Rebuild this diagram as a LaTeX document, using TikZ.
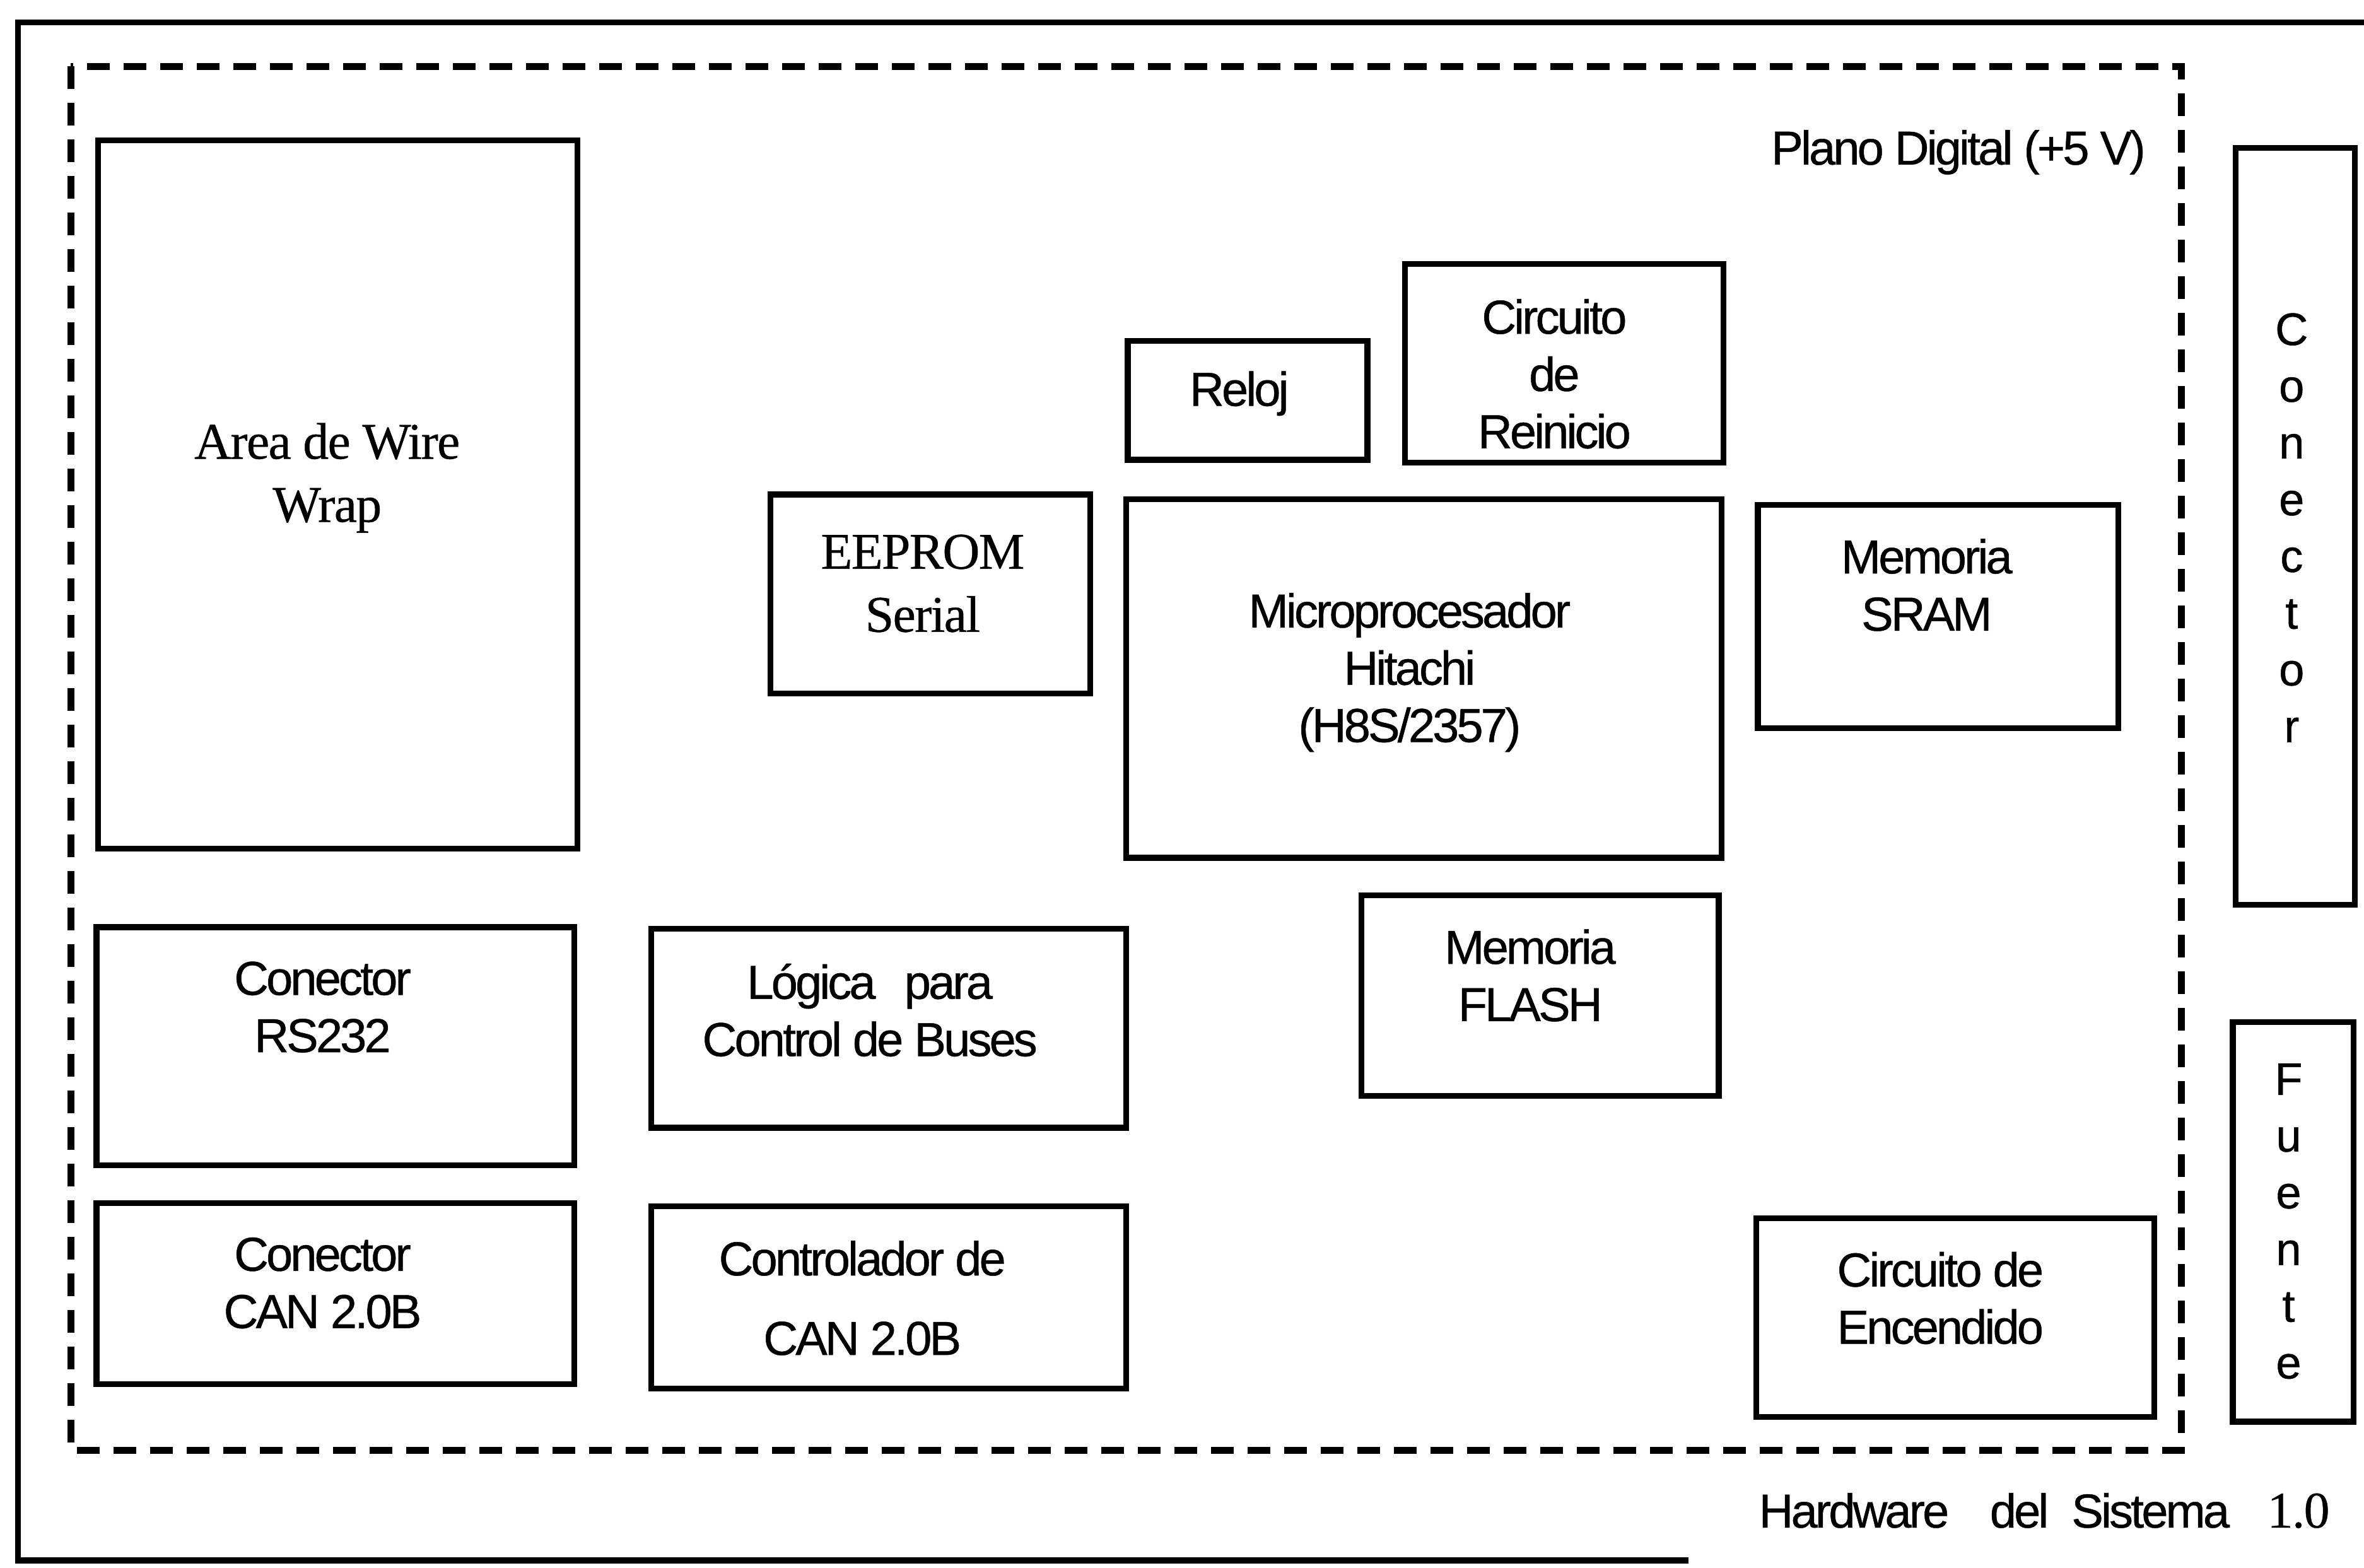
\documentclass[tikz,border=0pt]{standalone}
\usepackage{fontspec}
\setmainfont{Liberation Sans}[LetterSpace=-5, FakeBold=0.6]
\newfontfamily\serifface{Liberation Serif}[LetterSpace=-2, FakeBold=0.5]
\newfontfamily\spacedface{Liberation Sans}[FakeBold=0.6]
\usetikzlibrary{fit}

\tikzset{
  blk/.style={draw, line width=1.1pt, inner sep=0pt},
  lbl/.style={font=\fontsize{9}{10.8}\selectfont, align=center, inner sep=0pt},
  slbl/.style={font=\serifface\fontsize{9.7}{11.9}\selectfont, align=center, inner sep=0pt},
  vlbl/.style={font=\spacedface\fontsize{8.6}{10.7}\selectfont, align=center, inner sep=0pt},
  plane/.style={dash pattern=on 4.3pt off 2.6pt, line width=1.3pt},
  framing/.style={line width=1.1pt}
}

\begin{document}
\begin{tikzpicture}[x=0.01cm, y=-0.01cm]
\useasboundingbox (0,0) rectangle (1568,1040);

% outer sheet border (open on the right)
\coordinate (ftr) at (1568,15);
\coordinate (ftl) at (12,15);
\coordinate (fbl) at (12,1035);
\coordinate (fbr) at (1120,1035);
\draw[framing] (ftr) -- (ftl) -- (fbl) -- (fbr);

% digital plane boundary
\coordinate (pnw) at (47,44);
\coordinate (pse) at (1447,962);
\draw[plane] (pnw) rectangle (pse);
\node[lbl, anchor=center] (plano) at (1299,101) {Plano Digital (+5 V)};

% blocks
\node[blk, fit={(65,93) (383,563)}] (area) {};
\node[slbl] (area-t) at (217,317) {Area de Wire\\Wrap};

\node[blk, fit={(64,615) (381,773)}] (rs) {};
\node[lbl] (rs-t) at (214,668) {Conector\\RS232};

\node[blk, fit={(64,798) (381,918)}] (canc) {};
\node[lbl] (canc-t) at (214,851) {Conector\\CAN 2.0B};

\node[blk, fit={(432,616) (747,748)}] (logic) {};
\node[lbl] (logic-t) at (577,670) {L\'ogica\hspace{0.6em}para\\Control de Buses};

\node[blk, fit={(432,800) (747,921)}] (canctl) {};
\node[lbl] (canctl-t) at (572,861) {Controlador de\\[4.2pt]CAN 2.0B};

\node[blk, fit={(511,328) (723,460)}] (eeprom) {};
\node[slbl] (eeprom-t) at (612,387) {EEPROM\\Serial};

\node[blk, fit={(748,226) (907,305)}] (reloj) {};
\node[lbl] (reloj-t) at (822,261) {Reloj};

\node[blk, fit={(932,175) (1143,307)}] (reset) {};
\node[lbl] (reset-t) at (1031,248) {Circuito\\de\\Reinicio};

\node[blk, fit={(747,331) (1142,569)}] (cpu) {};
\node[lbl] (cpu-t) at (935,446) {Microprocesador\\Hitachi\\(H8S/2357)};

\node[blk, fit={(1166,335) (1405,483)}] (sram) {};
\node[lbl] (sram-t) at (1278,388) {Memoria\\SRAM};

\node[blk, fit={(903,594) (1140,727)}] (flash) {};
\node[lbl] (flash-t) at (1015,647) {Memoria\\FLASH};

\node[blk, fit={(1165,808) (1429,940)}] (power) {};
\node[lbl] (power-t) at (1287,861) {Circuito de\\Encendido};

% side connectors
\node[blk, fit={(1483,98) (1562,600)}] (conn) {};
\node[vlbl] (conn-t) at (1520,350) {C\\o\\n\\e\\c\\t\\o\\r};

\node[blk, fit={(1481,678) (1561,943)}] (fuente) {};
\node[vlbl] (fuente-t) at (1518,810) {F\\u\\e\\n\\t\\e};

% sheet title
\node[lbl, anchor=west] (title) at (1166,1002)
  {Hardware\hspace{7.7pt}del\hspace{4.3pt}Sistema\hspace{7.1pt}{\serifface\fontsize{9.7}{11}\selectfont 1.0}};
\end{tikzpicture}
\end{document}
